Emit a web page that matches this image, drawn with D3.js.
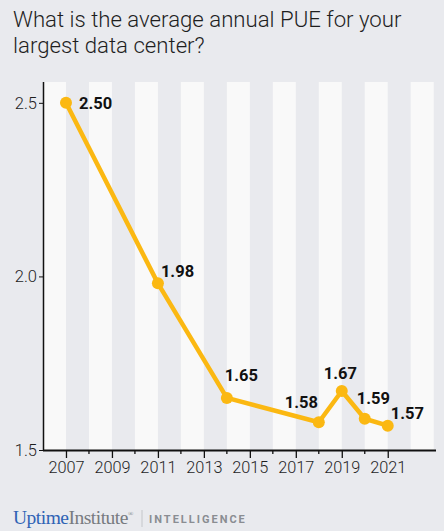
<!DOCTYPE html>
<html lang="en">
<head>
<meta charset="utf-8">
<title>Average annual PUE</title>
<script src="https://cdnjs.cloudflare.com/ajax/libs/d3/7.8.5/d3.min.js"></script>
<style>
  html, body { margin: 0; padding: 0; background: #e9eaee; }
  svg { display: block; }
</style>
</head>
<body>
<div id="viz"></div>
<script>
  // data
  const years = [2007, 2011, 2014, 2018, 2019, 2020, 2021];
  const pue = [2.50, 1.98, 1.65, 1.58, 1.67, 1.59, 1.57];
  const tickYears = [2007, 2009, 2011, 2013, 2015, 2017, 2019, 2021];
  const yTicks = [1.5, 2.0, 2.5];
  const title = ["What is the average annual PUE for your", "largest data center?"];

  const width = 444, height = 531;
  const plotLeft = 43, plotRight = 436, plotTop = 82, plotBottom = 450;

  const x = d3.scaleLinear().domain([2006, 2023.1]).range([plotLeft, plotRight]);
  const y = d3.scaleLinear().domain([1.5, 2.56]).range([plotBottom, plotTop]);

  const svg = d3.select("#viz").append("svg")
    .attr("width", width).attr("height", height);

  svg.append("rect").attr("width", width).attr("height", height).attr("fill", "#e9eaee");

  // title
  svg.append("g").selectAll("text").data(title).enter().append("text")
    .attr("x", 13).attr("y", (d, i) => 27 + i * 26)
    .attr("font-family", "Roboto").attr("font-weight", 300)
    .attr("font-size", 22.2).attr("fill", "#1e1e1e")
    .text(d => d);

  // alternating year stripes
  const stripeYears = d3.range(2006, 2023, 2);
  svg.append("g").selectAll("rect").data(stripeYears).enter().append("rect")
    .attr("x", d => x(d)).attr("y", plotTop)
    .attr("width", d => Math.min(x(d + 1), plotRight) - x(d))
    .attr("height", plotBottom - plotTop)
    .attr("fill", "#f9f9f9");

  // x axis
  const xAxis = svg.append("g").attr("transform", `translate(0,${plotBottom})`)
    .call(d3.axisBottom(x).tickValues(tickYears).tickFormat(d3.format("d")).tickSize(8).tickPadding(3));
  xAxis.select(".domain").attr("d", `M${plotLeft},0.5H${plotRight}`).attr("stroke", "#111").attr("stroke-width", 2);
  xAxis.selectAll("line").attr("stroke", "#111").attr("stroke-width", 1.3);
  xAxis.selectAll("text").attr("font-family", "Roboto").attr("font-weight", 300)
    .attr("font-size", 16.3).attr("fill", "#1e1e1e");
  // short ticks on even years
  xAxis.append("g").selectAll("line").data(d3.range(2008, 2021, 2)).enter().append("line")
    .attr("x1", d => x(d)).attr("x2", d => x(d)).attr("y1", 0).attr("y2", 4)
    .attr("stroke", "#111").attr("stroke-width", 1.3);

  // y axis
  const yAxis = svg.append("g").attr("transform", `translate(${plotLeft},0)`)
    .call(d3.axisLeft(y).tickValues(yTicks).tickFormat(d3.format(".1f")).tickSize(4).tickPadding(2));
  yAxis.select(".domain").attr("d", `M0.5,${plotTop}V${plotBottom}`).attr("stroke", "#111").attr("stroke-width", 1.5);
  yAxis.selectAll("line").attr("stroke", "#111");
  yAxis.selectAll("text").attr("font-family", "Roboto").attr("font-weight", 300)
    .attr("font-size", 16.5).attr("fill", "#1e1e1e");

  const pts = years.map((d, i) => ({ year: d, v: pue[i] }));

  // line
  svg.append("path").datum(pts)
    .attr("fill", "none").attr("stroke", "#fbb812").attr("stroke-width", 4.5)
    .attr("stroke-linejoin", "round")
    .attr("d", d3.line().x(d => x(d.year)).y(d => y(d.v)));

  svg.append("g").selectAll("circle").data(pts).enter().append("circle")
    .attr("cx", d => x(d.year)).attr("cy", d => y(d.v)).attr("r", 6)
    .attr("fill", "#fbb812");

  // value labels: offsets relative to each point
  const labelDx = [13, 3, -2, -34, -18, -8, 3];
  const labelDy = [6, -6, -17, -14, -12, -15, -7];
  svg.append("g").selectAll("text").data(pts).enter().append("text")
    .attr("x", (d, i) => x(d.year) + labelDx[i])
    .attr("y", (d, i) => y(d.v) + labelDy[i])
    .attr("font-family", "Roboto").attr("font-weight", 700)
    .attr("font-size", 16.5).attr("fill", "#111")
    .text(d => d.v.toFixed(2));

  // logo
  const logo = svg.append("text").attr("x", 13).attr("y", 524)
    .attr("font-family", "Liberation Serif").attr("font-size", 19.5).attr("letter-spacing", -0.5);
  logo.append("tspan").attr("fill", "#2f63b5").text("Uptime");
  logo.append("tspan").attr("fill", "#777b80").text("Institute");
  logo.append("tspan").attr("fill", "#777b80").attr("font-size", 7).attr("dy", -8).text("®");
  svg.append("line").attr("x1", 142).attr("x2", 142).attr("y1", 510).attr("y2", 527)
    .attr("stroke", "#c4c6ca").attr("stroke-width", 1);
  svg.append("text").attr("x", 149).attr("y", 523)
    .attr("font-family", "Roboto").attr("font-weight", 700).attr("font-size", 11)
    .attr("letter-spacing", 2).attr("fill", "#8a8d92")
    .text("INTELLIGENCE");
</script>
</body>
</html>
